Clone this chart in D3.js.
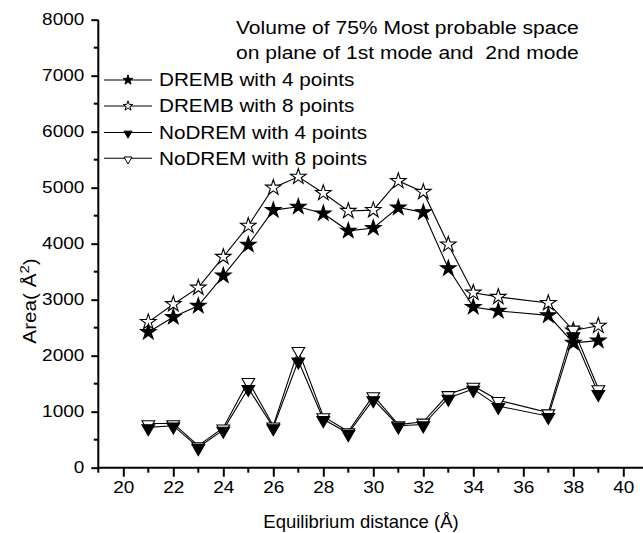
<!DOCTYPE html>
<html>
<head>
<meta charset="utf-8">
<script src="https://cdn.jsdelivr.net/npm/d3@7"></script>
<style>
  html, body { margin: 0; padding: 0; background: #fff; }
  svg { display: block; font-family: "Liberation Sans", Arial, sans-serif; }
</style>
</head>
<body>
<svg id="chart" width="643" height="533"></svg>
<script>
// Equilibrium distances (Å) sampled
const distances = [21, 22, 23, 24, 25, 26, 27, 28, 29, 30, 31, 32, 33, 34, 35, 37, 38, 39];

// Area (Å²) of the 75% most probable region for each method
const drembFour   = [2420, 2690, 2890, 3430, 3980, 4600, 4660, 4540, 4230, 4280, 4645, 4560, 3560, 2870, 2800, 2720, 2230, 2270];
const drembEight  = [2600, 2920, 3215, 3765, 4320, 5000, 5195, 4905, 4585, 4600, 5120, 4925, 3985, 3125, 3050, 2940, 2450, 2535];
const nodremFour  = [720, 750, 365, 675, 1420, 720, 1910, 865, 615, 1220, 750, 770, 1245, 1405, 1100, 920, 2360, 1330];
const nodremEight = [790, 790, 395, 715, 1545, 750, 2100, 915, 645, 1290, 770, 820, 1310, 1460, 1205, 985, 2480, 1415];

const seriesNames = ["DREMB with 4 points", "DREMB with 8 points", "NoDREM with 4 points", "NoDREM with 8 points"];
const xTicks = [20, 22, 24, 26, 28, 30, 32, 34, 36, 38, 40];
const yTicks = [0, 1000, 2000, 3000, 4000, 5000, 6000, 7000, 8000];
const titleLines = ["Volume of 75% Most probable space", "on plane of 1st mode and  2nd mode"];

// Most text in this figure uses a horizontally widened sans face
const stretch = 1.15;

const svg = d3.select("#chart");

const x = d3.scaleLinear().domain([19, 40.8]).range([98.3, 643.3]);
const y = d3.scaleLinear().domain([0, 8000]).range([467.7, 19.7]);

// Axes: major ticks with labels, minor ticks between them
const xMinor = d3.range(19, 41, 1).filter(v => v % 2 !== 0);
const yMinor = d3.range(500, 8000, 1000);

const gx = svg.append("g").attr("transform", `translate(0,${y(0)})`);
gx.append("line").attr("x1", x(19) - 1).attr("x2", 643).attr("stroke", "#000").attr("stroke-width", 2);
gx.selectAll(".minor").data(xMinor).join("line")
  .attr("x1", d => x(d)).attr("x2", d => x(d)).attr("y1", 0).attr("y2", 5)
  .attr("stroke", "#000").attr("stroke-width", 2);
gx.call(d3.axisBottom(x).tickValues(xTicks).tickSize(9).tickPadding(5).tickFormat(d3.format("d")))
  .call(g => g.select(".domain").remove())
  .call(g => g.selectAll(".tick line").attr("stroke-width", 2))
  .call(g => g.selectAll(".tick text").attr("font-size", 16.5)
    .attr("font-family", "Liberation Sans, Arial, sans-serif").attr("fill", "#000")
    .attr("transform", `scale(${stretch},1)`));

const gy = svg.append("g").attr("transform", `translate(${x(19)},0)`);
gy.append("line").attr("y1", y(8000)).attr("y2", y(0) + 1).attr("stroke", "#000").attr("stroke-width", 2);
gy.selectAll(".minor").data(yMinor).join("line")
  .attr("y1", d => y(d)).attr("y2", d => y(d)).attr("x1", 0).attr("x2", -4.5)
  .attr("stroke", "#000").attr("stroke-width", 2);
gy.call(d3.axisLeft(y).tickValues(yTicks).tickSize(7).tickPadding(7).tickFormat(d3.format("d")))
  .call(g => g.select(".domain").remove())
  .call(g => g.selectAll(".tick line").attr("stroke-width", 2))
  .call(g => g.selectAll(".tick text").attr("font-size", 16.5)
    .attr("font-family", "Liberation Sans, Arial, sans-serif").attr("fill", "#000")
    .attr("x", -14 / stretch).attr("transform", `scale(${stretch},1)`));

// Axis titles
svg.append("text").attr("x", 361).attr("y", 528)
  .attr("text-anchor", "middle").attr("font-size", 18.5).text("Equilibrium distance (Å)");

const yLab = svg.append("text").attr("transform", `translate(36,301) rotate(-90) scale(${stretch},1)`)
  .attr("text-anchor", "middle").attr("font-size", 18);
yLab.append("tspan").text("Area( Å");
yLab.append("tspan").attr("dy", -7).attr("font-size", 13).text("2");
yLab.append("tspan").attr("dy", 7).text(")");

// Marker shapes
const starPath = s => d3.symbol(d3.symbolStar, s)();
const triPath = s => d3.symbol(d3.symbolTriangle, s)();

const series = [
  { name: seriesNames[1], values: drembEight,  shape: "star", fill: "#fff" },
  { name: seriesNames[3], values: nodremEight, shape: "tri",  fill: "#fff" },
  { name: seriesNames[0], values: drembFour,   shape: "star", fill: "#000" },
  { name: seriesNames[2], values: nodremFour,  shape: "tri",  fill: "#000" }
];

const line = d3.line().x(d => x(d[0])).y(d => y(d[1]));

series.forEach(s => {
  const pts = distances.map((d, i) => [d, s.values[i]]);
  svg.append("path").attr("d", line(pts)).attr("fill", "none")
    .attr("stroke", "#000").attr("stroke-width", 1.1);
});

series.forEach(s => {
  const pts = distances.map((d, i) => [d, s.values[i]]);
  svg.append("g").selectAll("path").data(pts).join("path")
    .attr("d", s.shape === "star" ? starPath(75) : triPath(70))
    .attr("transform", d => s.shape === "star"
      ? `translate(${x(d[0])},${y(d[1])})`
      : `translate(${x(d[0])},${y(d[1]) + 1}) rotate(180)`)
    .attr("fill", s.fill).attr("stroke", "#000").attr("stroke-width", 1.1);
});

// Title
titleLines.forEach((t, i) => {
  svg.append("text").attr("transform", `translate(236,${i === 0 ? 33.5 : 59}) scale(${stretch},1)`)
    .attr("font-size", 18.3).style("white-space", "pre").text(t);
});

// Legend
const legend = [
  { name: seriesNames[0], shape: "star", fill: "#000" },
  { name: seriesNames[1], shape: "star", fill: "#fff" },
  { name: seriesNames[2], shape: "tri",  fill: "#000" },
  { name: seriesNames[3], shape: "tri",  fill: "#fff" }
];
const legY = [80, 106, 132.5, 158.3];
legend.forEach((l, i) => {
  const g = svg.append("g").attr("transform", `translate(0,${legY[i]})`);
  g.append("line").attr("x1", 104).attr("x2", 152).attr("stroke", "#000").attr("stroke-width", 1.1);
  g.append("path")
    .attr("d", l.shape === "star" ? starPath(30) : triPath(28))
    .attr("transform", l.shape === "star" ? "translate(128,0)" : "translate(128,1) rotate(180)")
    .attr("fill", l.fill).attr("stroke", "#000").attr("stroke-width", 1);
  g.append("text").attr("transform", `translate(159,6.3) scale(${stretch},1)`)
    .attr("font-size", 18).text(l.name);
});
</script>
</body>
</html>
